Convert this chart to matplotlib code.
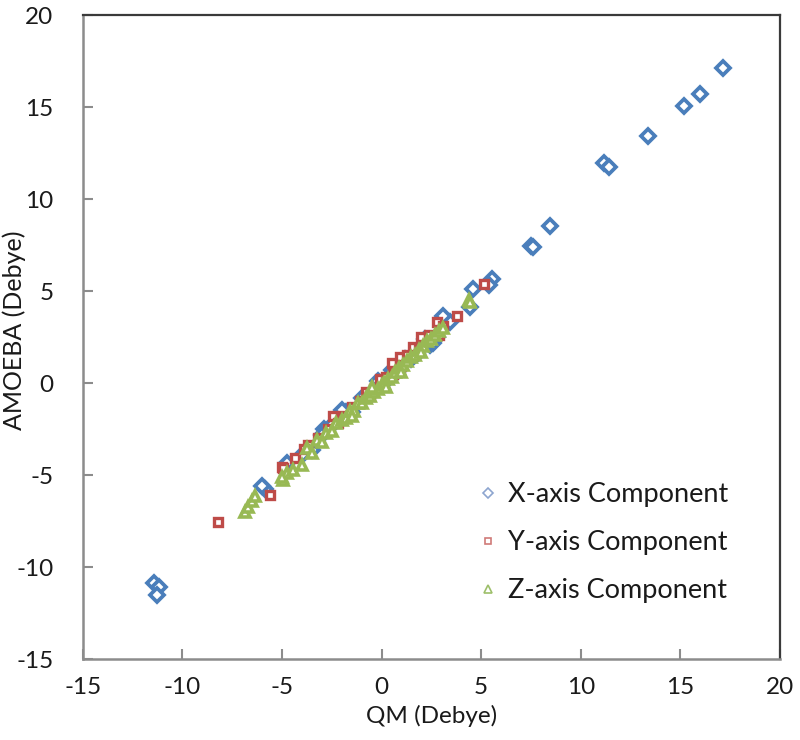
import matplotlib
matplotlib.use("Agg")
import matplotlib.pyplot as plt
from matplotlib.lines import Line2D

# ---- data (QM vs AMOEBA dipole components, Debye) ----
x_qm = [17.15, 15.98, 15.16, 13.39, 11.16, 11.43, 8.45, 7.50, 7.60, 5.56, 5.41, 4.58,
        4.44, 3.44, 3.10, 2.43, 2.80, 2.20, 1.80, 1.50, 1.20, 0.80, 0.50, 0.20, -0.20,
        -0.50, -1.00, -1.50, -1.80, -2.00, -2.50, -2.90, -3.00, -3.50, -4.76, -5.85,
        -6.01, -11.42, -11.15, -11.28, 2.60, -4.00]
x_am = [17.14, 15.69, 15.05, 13.44, 11.94, 11.76, 8.53, 7.45, 7.40, 5.65, 5.33, 5.09,
        4.11, 3.33, 3.65, 2.07, 2.50, 2.40, 1.60, 1.30, 1.30, 0.60, 0.70, 0.10, 0.10,
        -0.55, -0.80, -1.60, -1.60, -1.47, -2.30, -2.50, -2.80, -3.64, -4.36, -5.78,
        -5.60, -10.85, -11.10, -11.52, 2.20, -3.90]

y_qm = [-8.22, -5.60, -5.01, -4.93, -4.34, -3.67, -2.42, -2.20, -1.90, -1.50, -1.10,
        -0.80, -0.40, -0.10, 0.20, 0.51, 0.93, 1.30, 1.60, 2.00, 2.40, 2.77, 3.10, 3.77,
        5.14, -3.20, -2.70, -3.90, 0.60, 1.00, -0.60, 1.90, 2.90]
y_am = [-7.55, -6.09, -4.55, -4.60, -4.09, -3.37, -1.79, -2.20, -1.80, -1.30, -1.00,
        -0.50, -0.30, 0.20, 0.30, 1.07, 1.43, 1.50, 1.97, 2.52, 2.60, 3.33, 3.10, 3.64,
        5.38, -3.00, -2.50, -3.60, 0.50, 0.90, -0.70, 1.80, 2.60]

z_qm = [-6.85, -6.68, -6.52, -6.35, -4.93, -4.76, -4.43, -4.00, -3.75, -3.25, -3.00,
        -2.80, -2.50, -2.30, -2.00, -1.80, -1.60, -1.40, -1.20, -1.00, -0.80, -0.60,
        -0.40, -0.20, 0.00, 0.10, 0.30, 0.50, 0.70, 0.90, 1.10, 1.30, 1.50, 1.70, 1.90,
        2.10, 2.30, 2.50, 2.70, 2.90, 3.10, 4.41, 4.45, -5.00, -3.50, -1.50, 0.20, 1.00,
        2.00, -0.50]
z_am = [-7.00, -6.72, -6.40, -6.14, -5.27, -4.91, -4.73, -4.46, -3.55, -3.10, -3.20,
        -2.70, -2.60, -2.20, -2.00, -1.90, -1.50, -1.50, -1.10, -1.10, -0.80, -0.70,
        -0.50, -0.30, -0.10, 0.00, 0.20, 0.30, 0.60, 0.80, 1.00, 1.20, 1.40, 1.50, 1.80,
        2.00, 2.30, 2.40, 2.60, 2.80, 3.00, 4.51, 4.40, -5.10, -3.80, -1.80, -0.20, 0.60,
        1.70, -0.20]

labels = ["X-axis Component", "Y-axis Component", "Z-axis Component"]
ticks = [-15, -10, -5, 0, 5, 10, 15, 20]

BLUE = "#4A7EBB"
RED = "#BE4B48"
GREEN = "#98B954"
TXT = "#1a1a1a"

plt.rcParams['font.family'] = ['Lato', 'DejaVu Sans']

fig = plt.figure(figsize=(8, 7.4), dpi=100)
ax = fig.add_axes([82.7 / 800, 1 - 659 / 740, (780 - 82.7) / 800, (659 - 15) / 740])

ax.plot(x_qm, x_am, ls='none', marker='D', ms=6.8, mfc='white', mec=BLUE, mew=2.7)
ax.plot(y_qm, y_am, ls='none', marker='s', ms=6.2, mfc='white', mec=RED, mew=2.4)
ax.plot(z_qm, z_am, ls='none', marker='^', ms=7.8, mfc='white', mec=GREEN, mew=2.6)

ax.set_xlim(-15, 20)
ax.set_ylim(-15, 20)
ax.set_xticks(ticks)
ax.set_yticks(ticks)
ax.set_xticklabels([str(t) for t in ticks])
ax.set_yticklabels([str(t) for t in ticks])
ax.tick_params(direction='in', length=7, width=1.5, color='#8C8C8C',
               labelsize=17.5, labelcolor=TXT)
ax.tick_params(axis='x', pad=13)
ax.tick_params(axis='y', pad=21)

for s in ['left', 'bottom']:
    ax.spines[s].set_color('#8C8C8C')
    ax.spines[s].set_linewidth(1.8)
for s in ['top', 'right']:
    ax.spines[s].set_color('#3A3A3A')
    ax.spines[s].set_linewidth(1.6)

ax.set_xlabel("QM (Debye)", fontsize=17.5, color=TXT)
ax.xaxis.set_label_coords(0.5, -0.072)
ax.set_ylabel("AMOEBA (Debye)", fontsize=18, color=TXT)
ax.yaxis.set_label_coords(-0.082, 0.51)

handles = [
    Line2D([], [], ls='none', marker='D', ms=4.8, mfc='white', mec='#8DA5CF', mew=1.2),
    Line2D([], [], ls='none', marker='s', ms=4.8, mfc='white', mec='#D07A78', mew=1.2),
    Line2D([], [], ls='none', marker='^', ms=5.3, mfc='white', mec='#9DBF6A', mew=1.2),
]
leg = ax.legend(handles, labels, loc='upper left', bbox_to_anchor=(480 / 800, 1 - 482 / 740),
                bbox_transform=fig.transFigure, frameon=False, fontsize=19.5,
                labelspacing=0.85, handlelength=0.6, handletextpad=0.42, borderpad=0,
                borderaxespad=0)
for t in leg.get_texts():
    t.set_color(TXT)

fig.savefig("out.png", dpi=100)
